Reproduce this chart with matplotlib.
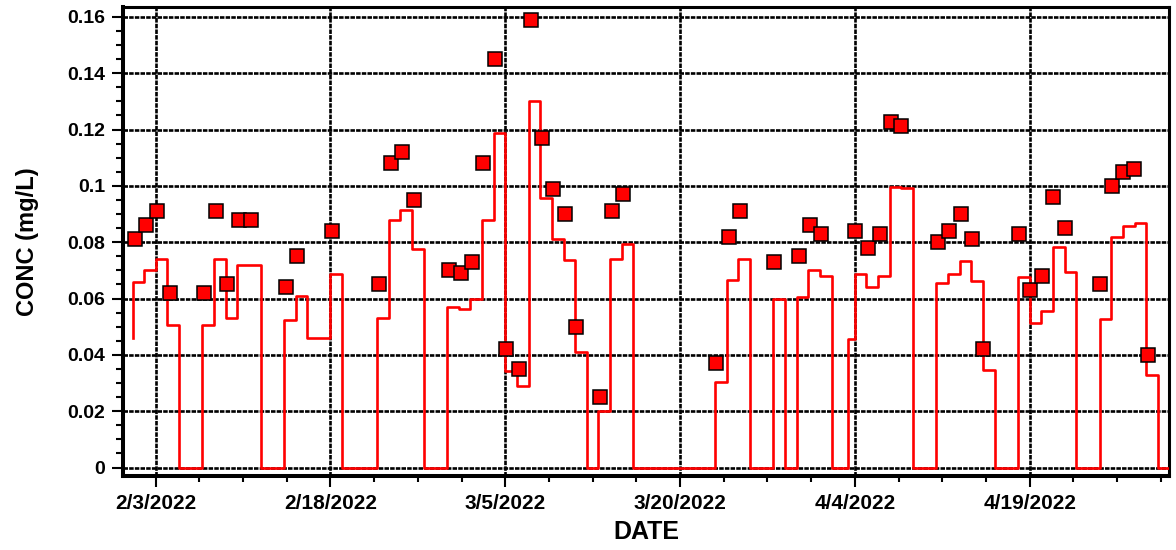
import matplotlib
matplotlib.use("Agg")
import matplotlib.pyplot as plt
import matplotlib.dates as mdates
from matplotlib.ticker import FixedLocator, FixedFormatter, MultipleLocator, AutoMinorLocator, FuncFormatter
import pandas as pd

# Measured concentrations (sample time, mg/L)
sample_times = [
    "2022-02-01 05:00", "2022-02-02 03:00", "2022-02-03 03:00", "2022-02-04 06:00",
    "2022-02-07 04:00", "2022-02-08 04:00", "2022-02-09 02:00", "2022-02-10 04:00",
    "2022-02-11 05:00", "2022-02-14 04:00", "2022-02-15 02:00", "2022-02-18 04:00",
    "2022-02-22 03:00", "2022-02-23 04:00", "2022-02-24 03:00", "2022-02-25 03:00",
    "2022-02-28 05:00", "2022-03-01 04:00", "2022-03-02 04:00", "2022-03-03 03:00",
    "2022-03-04 02:00", "2022-03-05 02:00", "2022-03-06 05:00", "2022-03-07 05:00",
    "2022-03-08 04:00", "2022-03-09 03:00", "2022-03-10 02:00", "2022-03-11 02:00",
    "2022-03-13 04:00", "2022-03-14 03:00", "2022-03-15 02:00", "2022-03-23 01:00",
    "2022-03-24 04:00", "2022-03-25 03:00", "2022-03-28 02:00", "2022-03-30 04:00",
    "2022-03-31 03:00", "2022-04-01 03:00", "2022-04-04 01:00", "2022-04-05 03:00",
    "2022-04-06 03:00", "2022-04-07 02:00", "2022-04-08 00:00", "2022-04-11 04:00",
    "2022-04-12 02:00", "2022-04-13 02:00", "2022-04-14 01:00", "2022-04-15 00:00",
    "2022-04-18 02:00", "2022-04-19 01:00", "2022-04-20 01:00", "2022-04-21 00:30",
    "2022-04-22 00:00", "2022-04-25 01:30", "2022-04-26 00:45", "2022-04-27 00:00",
    "2022-04-27 23:30", "2022-04-29 03:00",
]
sample_conc = [
    0.081, 0.086, 0.091, 0.062,
    0.062, 0.091, 0.065, 0.088,
    0.088, 0.064, 0.075, 0.084,
    0.065, 0.108, 0.112, 0.095,
    0.070, 0.069, 0.073, 0.108,
    0.145, 0.042, 0.035, 0.159,
    0.117, 0.099, 0.090, 0.050,
    0.025, 0.091, 0.097, 0.037,
    0.082, 0.091, 0.073, 0.075,
    0.086, 0.083, 0.084, 0.078,
    0.083, 0.1226, 0.1213, 0.080,
    0.084, 0.090, 0.081, 0.042,
    0.083, 0.063, 0.068, 0.096,
    0.085, 0.065, 0.100, 0.105,
    0.106, 0.040,
]

# Simulated daily concentration (value holds from each time until the next)
model_times = [
    "2022-02-01 01:00", "2022-02-01 01:00", "2022-02-02 00:00", "2022-02-03 00:00", "2022-02-04 00:00",
    "2022-02-05 00:00", "2022-02-07 00:00", "2022-02-08 00:00", "2022-02-09 00:00", "2022-02-10 00:00",
    "2022-02-12 00:00", "2022-02-14 00:00", "2022-02-15 00:00", "2022-02-16 00:00", "2022-02-18 00:00",
    "2022-02-19 00:00", "2022-02-22 00:00", "2022-02-23 00:00", "2022-02-24 00:00", "2022-02-25 00:00",
    "2022-02-26 00:00", "2022-02-28 00:00", "2022-03-01 00:00", "2022-03-02 00:00", "2022-03-03 00:00",
    "2022-03-04 00:00", "2022-03-05 00:00", "2022-03-06 00:00", "2022-03-07 00:00", "2022-03-08 00:00",
    "2022-03-09 00:00", "2022-03-10 00:00", "2022-03-11 00:00", "2022-03-12 00:00", "2022-03-13 00:00",
    "2022-03-14 00:00", "2022-03-15 00:00", "2022-03-16 00:00", "2022-03-23 00:00", "2022-03-24 00:00",
    "2022-03-25 00:00", "2022-03-26 00:00", "2022-03-28 00:00", "2022-03-29 00:00", "2022-03-30 00:00",
    "2022-03-31 00:00", "2022-04-01 00:00", "2022-04-02 00:00", "2022-04-03 10:00", "2022-04-04 00:00",
    "2022-04-05 00:00", "2022-04-06 00:00", "2022-04-07 00:00", "2022-04-08 00:00", "2022-04-09 00:00",
    "2022-04-11 00:00", "2022-04-12 00:00", "2022-04-13 00:00", "2022-04-14 00:00", "2022-04-15 00:00",
    "2022-04-16 00:00", "2022-04-18 00:00", "2022-04-19 00:00", "2022-04-20 00:00", "2022-04-21 00:00",
    "2022-04-22 00:00", "2022-04-23 00:00", "2022-04-25 00:00", "2022-04-26 00:00", "2022-04-27 00:00",
    "2022-04-28 00:00", "2022-04-29 00:00", "2022-04-30 00:00", "2022-05-01 00:00",
]
model_conc = [
    0.046, 0.066, 0.070, 0.074, 0.0505,
    0.0, 0.0505, 0.0742, 0.053, 0.072,
    0.0, 0.0524, 0.061, 0.046, 0.0687,
    0.0, 0.053, 0.0879, 0.0915, 0.0776,
    0.0, 0.0569, 0.0562, 0.0599, 0.0879,
    0.1187, 0.0343, 0.0288, 0.1302, 0.0956,
    0.0812, 0.0737, 0.041, 0.0, 0.0201,
    0.0741, 0.0794, 0.0, 0.0303, 0.0666,
    0.0741, 0.0, 0.0598, 0.0, 0.0607,
    0.0702, 0.068, 0.0, 0.0456, 0.0686,
    0.064, 0.068, 0.0997, 0.0992, 0.0,
    0.0657, 0.0686, 0.0735, 0.0663, 0.0347,
    0.0, 0.0678, 0.0513, 0.0557, 0.0782,
    0.0696, 0.0, 0.0527, 0.082, 0.0858,
    0.087, 0.0329, 0.0, 0.0,
]

x_tick_dates = ["2022-02-03", "2022-02-18", "2022-03-05", "2022-03-20", "2022-04-04", "2022-04-19"]
x_tick_labels = ["2/3/2022", "2/18/2022", "3/5/2022", "3/20/2022", "4/4/2022", "4/19/2022"]

plt.rcParams["font.family"] = ["Liberation Sans", "DejaVu Sans"]
plt.rcParams["font.weight"] = "bold"

fig = plt.figure(figsize=(11.76, 5.5), dpi=100)
ax = fig.add_axes([0.1046, 0.1345, 0.8897, 0.8522])

mt = pd.to_datetime(model_times, format="%Y-%m-%d %H:%M")
st = pd.to_datetime(sample_times, format="%Y-%m-%d %H:%M")

ax.plot(mt, model_conc, drawstyle="steps-post", color="#ff0000", lw=1.9, zorder=3)
ax.plot(st, sample_conc, linestyle="none", marker="s", markersize=10.4,
        markerfacecolor="#ff0000", markeredgecolor="black", markeredgewidth=1.1, zorder=4)

ax.set_xlim(pd.Timestamp("2022-01-31 04:40"), pd.Timestamp("2022-04-30 23:40"))
ax.set_ylim(-0.003, 0.1634)

tick_pos = mdates.date2num(pd.to_datetime(x_tick_dates))
ax.xaxis.set_major_locator(FixedLocator(tick_pos))
ax.xaxis.set_major_formatter(FixedFormatter(x_tick_labels))
ax.xaxis.set_minor_locator(AutoMinorLocator(4))

ax.yaxis.set_major_locator(MultipleLocator(0.02))
ax.yaxis.set_minor_locator(MultipleLocator(0.005))
ax.yaxis.set_major_formatter(FuncFormatter(lambda v, p: f"{round(v, 4):g}"))

ax.grid(True, which="major", color="black", linestyle=(0, (1.7, 0.45)), lw=1.9)
ax.set_axisbelow(True)

for side in ["left", "bottom"]:
    ax.spines[side].set_linewidth(2.9)
for side in ["top", "right"]:
    ax.spines[side].set_linewidth(2.2)

ax.tick_params(axis="x", which="major", length=8, width=1.5, labelsize=15, pad=5)
ax.tick_params(axis="x", which="minor", length=4, width=1.5)
ax.tick_params(axis="y", which="major", length=8, width=1.5, labelsize=14, pad=5)
ax.tick_params(axis="y", which="minor", length=5, width=1.5)
for lab in ax.get_xticklabels() + ax.get_yticklabels():
    lab.set_fontweight("bold")

ax.set_xlabel("DATE", fontsize=18, fontweight="bold", labelpad=5)
ax.set_ylabel("CONC (mg/L)", fontsize=17, fontweight="bold", labelpad=20)

fig.savefig("out.png", dpi=100)
